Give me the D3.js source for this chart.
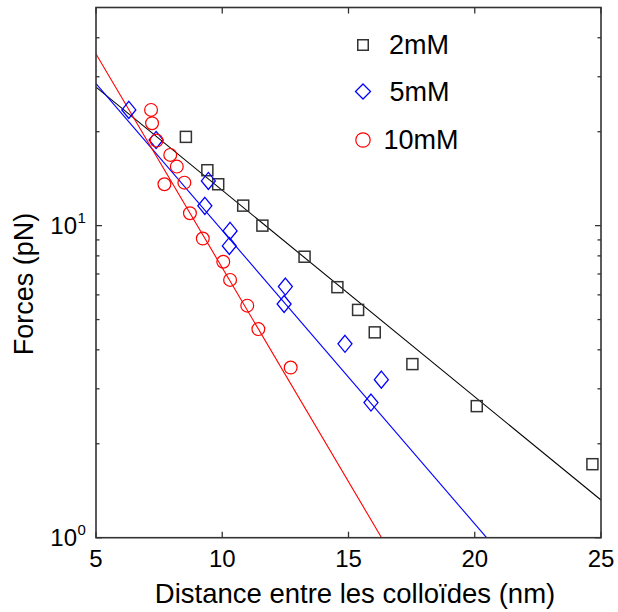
<!DOCTYPE html>
<html><head><meta charset="utf-8">
<script src="https://cdn.jsdelivr.net/npm/d3@7"></script>
<style>body{margin:0;background:#fff}svg{display:block}text{font-family:"Liberation Sans",Arial,sans-serif}</style>
</head><body>
<svg id="chart" width="618" height="612"></svg>
<script>
// Data
const series2mM_x = [8.56, 9.41, 9.84, 10.83, 11.59, 13.26, 14.56, 15.38, 16.04, 17.53, 20.08, 24.66];
const series2mM_y = [19.25, 15.05, 13.57, 11.59, 10.0, 7.95, 6.35, 5.37, 4.55, 3.60, 2.64, 1.72];
const series5mM_x = [6.30, 7.38, 9.45, 9.31, 10.31, 10.28, 12.50, 12.45, 14.86, 16.30, 15.89];
const series5mM_y = [23.49, 18.82, 13.91, 11.57, 9.62, 8.61, 6.38, 5.61, 4.18, 3.21, 2.71];
const series10mM_x = [7.18, 7.22, 7.40, 7.94, 8.20, 7.71, 8.50, 8.72, 9.23, 10.04, 10.31, 10.99, 11.43, 12.71];
const series10mM_y = [23.49, 21.29, 18.73, 16.85, 15.46, 13.57, 13.73, 10.96, 9.09, 7.66, 6.70, 5.54, 4.66, 3.51];
// exponential fits: end points
const fit2mM = [[5, 27.8], [25, 1.32]];
const fit5mM = [[5, 28.5], [20.47, 1.0]];
const fit10mM = [[5, 35.5], [16.31, 1.0]];
const seriesNames = ["2mM", "5mM", "10mM"];
const seriesColors = ["#333333", "#0000ff", "#ff0000"];
const xTicks = [5, 10, 15, 20, 25];
const yMajorTicks = [1, 10];
const yMinorTicks = [2, 3, 4, 5, 6, 7, 8, 9, 20, 30, 40];
const xLabel = "Distance entre les colloïdes (nm)";
const yLabel = "Forces (pN)";

const svg = d3.select("#chart");
const L = 96, R = 601, T = 7.5, B = 537.7;
const x = d3.scaleLinear().domain([5, 25]).range([L, R]);
const y = d3.scaleLog().domain([1, 50]).range([B, T]);

svg.append("defs").append("clipPath").attr("id", "clip")
  .append("rect").attr("x", L).attr("y", T).attr("width", R - L).attr("height", B - T);

const line = d3.line().x(d => x(d[0])).y(d => y(d[1]));
const plot = svg.append("g").attr("clip-path", "url(#clip)");
[fit2mM, fit5mM, fit10mM].forEach((f, i) => {
  plot.append("path").attr("d", line(f)).attr("fill", "none")
    .attr("stroke", i === 0 ? "#000" : seriesColors[i]).attr("stroke-width", 1.1);
});

const sq = 11, dw = 7, dh = 8.5, cr = 6.4;
function marker(g, kind, cx, cy, color, s) {
  if (kind === 0) {
    g.append("rect").attr("x", cx - s / 2).attr("y", cy - s / 2).attr("width", s).attr("height", s)
      .attr("fill", "none").attr("stroke", color).attr("stroke-width", 1.5);
  } else if (kind === 1) {
    g.append("path").attr("d", `M${cx},${cy - s.h}L${cx + s.w},${cy}L${cx},${cy + s.h}L${cx - s.w},${cy}Z`)
      .attr("fill", "none").attr("stroke", color).attr("stroke-width", 1.3);
  } else {
    g.append("circle").attr("cx", cx).attr("cy", cy).attr("r", s)
      .attr("fill", "none").attr("stroke", color).attr("stroke-width", 1.2);
  }
}
const mk = svg.append("g");
series2mM_x.forEach((v, i) => marker(mk, 0, x(v), y(series2mM_y[i]), seriesColors[0], sq));
series5mM_x.forEach((v, i) => marker(mk, 1, x(v), y(series5mM_y[i]), seriesColors[1], {w: dw, h: dh}));
series10mM_x.forEach((v, i) => marker(mk, 2, x(v), y(series10mM_y[i]), seriesColors[2], cr));

// axes / frame
const ax = svg.append("g").attr("stroke", "#333").attr("stroke-width", 1.3);
ax.append("rect").attr("x", L).attr("y", T).attr("width", R - L).attr("height", B - T).attr("fill", "none").attr("stroke-width", 1.6);
xTicks.forEach(t => {
  ax.append("line").attr("x1", x(t)).attr("x2", x(t)).attr("y1", B).attr("y2", B - 6);
  ax.append("line").attr("x1", x(t)).attr("x2", x(t)).attr("y1", T).attr("y2", T + 6);
});
yMajorTicks.forEach(t => {
  ax.append("line").attr("x1", L).attr("x2", L + 6).attr("y1", y(t)).attr("y2", y(t));
  ax.append("line").attr("x1", R).attr("x2", R - 6).attr("y1", y(t)).attr("y2", y(t));
});
yMinorTicks.forEach(t => {
  ax.append("line").attr("x1", L).attr("x2", L + 3.5).attr("y1", y(t)).attr("y2", y(t));
  ax.append("line").attr("x1", R).attr("x2", R - 3.5).attr("y1", y(t)).attr("y2", y(t));
});

// tick labels
svg.append("g").selectAll("text").data(xTicks).join("text")
  .attr("x", d => x(d)).attr("y", 567).attr("text-anchor", "middle")
  .attr("font-size", 24).attr("fill", "#000").text(d => d);
yMajorTicks.forEach(t => {
  const e = Math.round(Math.log10(t));
  svg.append("text").attr("x", 77).attr("y", y(t) + 8).attr("text-anchor", "end")
    .attr("font-size", 24).attr("fill", "#000").text("10");
  svg.append("text").attr("x", 77.5).attr("y", y(t) - 3).attr("font-size", 15).attr("fill", "#000").text(e);
});

// axis titles
svg.append("text").attr("x", 355).attr("y", 603).attr("text-anchor", "middle")
  .attr("font-size", 27.5).attr("fill", "#000").text(xLabel);
svg.append("text").attr("transform", "translate(33,284) rotate(-90)").attr("text-anchor", "middle")
  .attr("font-size", 27).attr("fill", "#000").text(yLabel);

// legend
const lg = svg.append("g");
const legY = [45, 91.5, 140];
const legTextX = [389, 389.5, 383.5];
seriesNames.forEach((n, i) => {
  if (i === 0) marker(lg, 0, 363, legY[i], seriesColors[0], 10.5);
  else if (i === 1) marker(lg, 1, 363, legY[i], seriesColors[1], {w: 7.5, h: 7.5});
  else marker(lg, 2, 363, legY[i], seriesColors[2], 7.2);
  lg.append("text").attr("x", legTextX[i]).attr("y", legY[i] + 9).attr("font-size", 27).attr("fill", "#000").text(n);
});
</script>
</body></html>
